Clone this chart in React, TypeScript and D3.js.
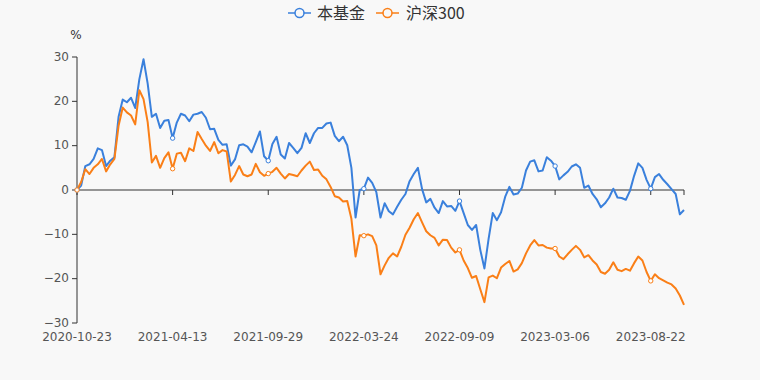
import React from "react";
import * as d3 from "d3";

const tickLabels = ["2020-10-23", "2021-04-13", "2021-09-29", "2022-03-24", "2022-09-09", "2023-03-06", "2023-08-22"];
const tickEvery = 23;
const seriesNames = ["本基金", "沪深300"];
const yTicks = [30, 20, 10, 0, -10, -20, -30];

const fundValues = [
  0, 1.0, 5.4, 5.8, 7.0, 9.4, 9.0, 5.4, 6.6, 7.4,
  16.5, 20.4, 19.8, 20.8, 18.5, 25.0, 29.5, 24.0, 16.5, 17.2,
  14.0, 15.6, 15.8, 11.7, 15.2, 17.2, 16.8, 15.5, 17.0, 17.2,
  17.6, 16.3, 13.7, 13.8, 11.3, 10.2, 10.3, 5.5, 6.9, 10.1,
  10.3, 9.8, 8.5, 10.8, 13.2, 7.6, 6.6, 10.4, 12.0, 8.0,
  7.1, 10.6, 9.5, 8.3, 9.5, 12.8, 10.6, 12.8, 14.0, 14.0,
  15.0, 15.2, 12.2, 11.0, 12.0, 10.1, 5.0, -6.2, 0, 0.3,
  2.8, 1.6, -0.5, -6.2, -3.0, -4.8, -5.5, -3.8, -2.2, -0.9,
  2.0, 3.6, 5.0, 0.2, -2.8, -2.0, -4.0, -5.2, -2.5, -3.7,
  -3.6, -4.7, -2.5, -5.2, -7.9, -9.0, -7.9, -13.5, -17.7, -11.0,
  -5.2, -6.8, -5.0, -1.5, 0.7, -1.0, -0.8, 0.5, 4.4, 6.4,
  6.7, 4.2, 4.4, 7.4, 6.6, 5.4, 2.4, 3.3, 4.1, 5.3,
  5.8, 5.0, 0.5, 1.0, -0.9, -2.1, -3.9, -3.0, -1.7, 0.3,
  -1.7, -1.8, -2.2, -0.2, 3.2, 6.0, 5.0, 2.3, 0.3, 2.9,
  3.6, 2.3, 1.3, 0.2, -0.9, -5.5, -4.5,
];

const indexValues = [
  0, 1.8, 4.7, 3.6, 5.0, 5.8, 7.0, 4.2, 5.8, 7.0,
  14.5, 18.6, 17.5, 16.8, 14.8, 22.5, 20.5, 15.3, 6.2, 7.7,
  5.0, 7.2, 8.5, 4.8, 8.2, 8.4, 6.5, 9.4, 8.8, 13.1,
  11.5, 10.0, 8.8, 10.8, 8.3, 9.0, 8.7, 1.9, 3.4, 5.4,
  3.5, 3.1, 3.5, 5.9, 4.0, 3.2, 3.7, 4.1, 5.0, 3.7,
  2.6, 3.6, 3.4, 3.1, 4.4, 5.5, 6.4, 4.5, 4.6, 3.2,
  2.4, 0.7, -1.4, -1.7, -2.6, -2.5, -6.5, -15.0, -10.2, -10.3,
  -10.0, -10.4, -12.5, -19.0, -17.0, -15.3, -14.3, -15.0, -12.8, -10.1,
  -8.5, -6.6, -5.2, -7.3, -9.3, -10.2, -10.8, -12.5, -11.2, -11.3,
  -13.0, -14.1, -13.5, -15.9, -17.6, -19.8, -19.4, -22.4, -25.3, -19.7,
  -19.3, -19.9, -17.5, -16.7, -16.0, -18.4, -17.9, -16.5, -14.3, -12.5,
  -11.3, -12.5, -12.4, -13.0, -13.2, -13.2, -15.0, -15.6, -14.5, -13.5,
  -12.6, -13.5, -15.2, -14.7, -15.9, -16.8, -18.5, -18.9, -18.0, -16.3,
  -18.0, -18.3, -17.8, -18.2, -16.5, -15.0, -15.9, -18.5, -20.5, -19.0,
  -19.9, -20.4, -20.9, -21.3, -22.2, -23.8, -25.9,
];

const colors = ["#3a80dc", "#fa7f17"];
const W = 760;
const H = 380;
const font = "'Noto Sans CJK SC', 'DejaVu Sans', sans-serif";
const tickFont = "'DejaVu Sans', sans-serif";

export default function App() {
  const n = fundValues.length;
  const x = d3.scaleLinear().domain([0, n - 1]).range([77, 684]);
  const y = d3.scaleLinear().domain([-30, 30]).range([323, 57]);
  const line = d3
    .line<number>()
    .x((_, i) => x(i))
    .y((d) => y(d));
  const series = [fundValues, indexValues];
  const markerIdx = d3.range(0, n, tickEvery);

  const legendItems = [
    { name: seriesNames[0], color: colors[0], x0: 288, tx: 317 },
    { name: seriesNames[1], color: colors[1], x0: 376, tx: 406 },
  ];

  return (
    <svg width={W} height={H} style={{ position: "absolute", left: 0, top: 0, fontFamily: font }}>
      <rect width={W} height={H} fill="#f8f8f8" />
      {legendItems.map((it) => (
        <g key={it.name}>
          <line x1={it.x0} x2={it.x0 + 23} y1={13} y2={13} stroke={it.color} strokeWidth={1.5} />
          <circle cx={it.x0 + 11.5} cy={13} r={4.5} fill="#f8f8f8" stroke={it.color} strokeWidth={1.5} />
          <text x={it.tx} y={19} fontSize={16} fill="#333">
            {it.name}
          </text>
        </g>
      ))}
      <text x={76} y={39} fontSize={12} fill="#333" textAnchor="middle" fontFamily={tickFont}>
        %
      </text>
      <line x1={77} x2={77} y1={y(30)} y2={y(-30)} stroke="#333" strokeWidth={1} />
      {yTicks.map((t) => (
        <g key={t}>
          <line x1={72} x2={77} y1={y(t)} y2={y(t)} stroke="#333" />
          <text x={69} y={y(t) + 3.5} fontSize={12} fill="#555" textAnchor="end" fontFamily={tickFont}>
            {String(t).replace("-", "−")}
          </text>
        </g>
      ))}
      <line x1={77} x2={684} y1={y(0)} y2={y(0)} stroke="#333" strokeWidth={1} />
      {tickLabels.map((lab, k) => {
        const xi = x(k * tickEvery);
        return (
          <g key={lab}>
            <line x1={xi} x2={xi} y1={y(0)} y2={y(0) + 5} stroke="#333" />
            <text x={xi} y={340.5} fontSize={12} fill="#555" textAnchor="middle" fontFamily={tickFont}>
              {lab}
            </text>
          </g>
        );
      })}
      <line x1={684} x2={684} y1={y(0)} y2={y(0) + 5} stroke="#333" />
      {series.map((s, si) => (
        <path key={si} d={line(s) || ""} fill="none" stroke={colors[si]} strokeWidth={2} strokeLinejoin="round" />
      ))}
      {series.map((s, si) =>
        markerIdx.map((i) => (
          <circle key={`${si}-${i}`} cx={x(i)} cy={y(s[i])} r={2.2} fill="#fff" stroke={colors[si]} strokeWidth={1} />
        ))
      )}
    </svg>
  );
}
